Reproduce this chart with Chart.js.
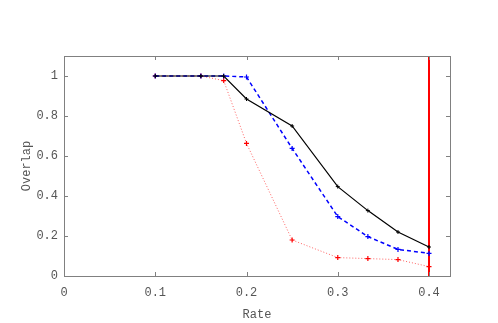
<!DOCTYPE html>
<html lang="en">
<head>
    <meta charset="UTF-8">
    <title>Overlap vs Rate</title>
    <script src="https://cdn.jsdelivr.net/npm/chart.js"></script>
    <style>
        html, body { margin: 0; padding: 0; background: #fff; }
        #wrap { width: 498px; height: 323px; }
    </style>
</head>
<body>
    <div id="wrap"><canvas id="overlapChart"></canvas></div>

    <script>
        // values
        const rates = [0.1, 0.15, 0.175, 0.2, 0.25, 0.3, 0.333, 0.366, 0.4];
        const blackSeries = [1, 1, 1, 0.885, 0.75, 0.447, 0.327, 0.22, 0.145];
        const blueSeries = [1, 1, 1, 0.995, 0.638, 0.297, 0.197, 0.133, 0.113];
        const redSeries = [1, 1, 0.977, 0.663, 0.18, 0.092, 0.087, 0.082, 0.047];
        const markerX = [0.4, 0.4];
        const markerY = [0, 1.1];
        const xTicks = [0, 0.1, 0.2, 0.3, 0.4];
        const yTicks = [0, 0.2, 0.4, 0.6, 0.8, 1];

        const axisGray = '#808080';
        const textGray = '#555555';
        const monoFont = { family: 'Liberation Mono', size: 12 };

        function toPoints(xs, ys) {
            return xs.map((x, i) => ({ x: x, y: ys[i] }));
        }

        // frame plus inward ticks on all four sides
        const framePlugin = {
            id: 'frame',
            afterDraw(chart) {
                const { ctx, chartArea: a, scales } = chart;
                ctx.save();
                ctx.strokeStyle = axisGray;
                ctx.lineWidth = 1;
                ctx.strokeRect(a.left + 0.5, a.top + 0.5, a.right - a.left, a.bottom - a.top);
                ctx.beginPath();
                xTicks.forEach(v => {
                    const px = Math.round(scales.x.getPixelForValue(v)) + 0.5;
                    ctx.moveTo(px, a.bottom); ctx.lineTo(px, a.bottom - 4);
                    ctx.moveTo(px, a.top); ctx.lineTo(px, a.top + 4);
                });
                yTicks.forEach(v => {
                    const py = Math.round(scales.y.getPixelForValue(v)) + 0.5;
                    ctx.moveTo(a.left, py); ctx.lineTo(a.left + 4, py);
                    ctx.moveTo(a.right, py); ctx.lineTo(a.right - 4, py);
                });
                ctx.stroke();
                ctx.restore();
            }
        };

        const ctx = document.getElementById('overlapChart').getContext('2d');
        new Chart(ctx, {
            type: 'line',
            data: {
                datasets: [
                    {
                        label: 'black',
                        data: toPoints(rates, blackSeries),
                        borderColor: '#000000',
                        backgroundColor: '#000000',
                        borderWidth: 1.2,
                        pointStyle: 'cross',
                        pointRadius: 2,
                        pointBorderWidth: 1,
                    },
                    {
                        label: 'blue',
                        data: toPoints(rates, blueSeries),
                        borderColor: '#0000ff',
                        backgroundColor: '#0000ff',
                        borderWidth: 1.5,
                        borderDash: [4, 3],
                        pointStyle: 'cross',
                        pointRadius: 2.5,
                        pointBorderWidth: 1.2,
                    },
                    {
                        label: 'red',
                        data: toPoints(rates, redSeries),
                        borderColor: 'rgba(255, 60, 60, 0.8)',
                        backgroundColor: '#ff0000',
                        pointBorderColor: '#ff0000',
                        borderWidth: 1,
                        borderDash: [1, 2],
                        pointStyle: 'cross',
                        pointRadius: 2.5,
                        pointBorderWidth: 1.2,
                    },
                    {
                        label: 'limit',
                        data: toPoints(markerX, markerY),
                        borderColor: '#ff0000',
                        borderWidth: 2,
                        pointRadius: 0,
                    },
                ],
            },
            options: {
                responsive: true,
                maintainAspectRatio: false,
                animation: false,
                clip: false,
                layout: { padding: { top: 56, right: 48, left: 20, bottom: 0 } },
                plugins: {
                    legend: { display: false },
                    tooltip: { enabled: false },
                },
                scales: {
                    x: {
                        type: 'linear',
                        min: 0,
                        max: 0.423,
                        afterBuildTicks: (s) => { s.ticks = xTicks.map(v => ({ value: v })); },
                        afterFit: (s) => { s.height = 47; },
                        grid: { display: false, drawTicks: false },
                        border: { display: false },
                        ticks: {
                            color: textGray,
                            font: monoFont,
                            padding: 10,
                            maxRotation: 0,
                            callback: (v) => String(v),
                        },
                        title: {
                            display: true,
                            text: 'Rate',
                            color: textGray,
                            font: monoFont,
                            padding: { top: 2, bottom: 1 },
                        },
                    },
                    y: {
                        min: 0,
                        max: 1.1,
                        afterBuildTicks: (s) => { s.ticks = yTicks.map(v => ({ value: v })); },
                        afterFit: (s) => { s.width = 44; },
                        grid: { display: false, drawTicks: false },
                        border: { display: false },
                        ticks: {
                            color: textGray,
                            font: monoFont,
                            padding: 6,
                            callback: (v) => String(v),
                        },
                        title: {
                            display: true,
                            text: 'Overlap',
                            color: textGray,
                            font: monoFont,
                            padding: { top: 0, bottom: 0 },
                        },
                    },
                },
            },
            plugins: [framePlugin],
        });
    </script>
</body>
</html>
